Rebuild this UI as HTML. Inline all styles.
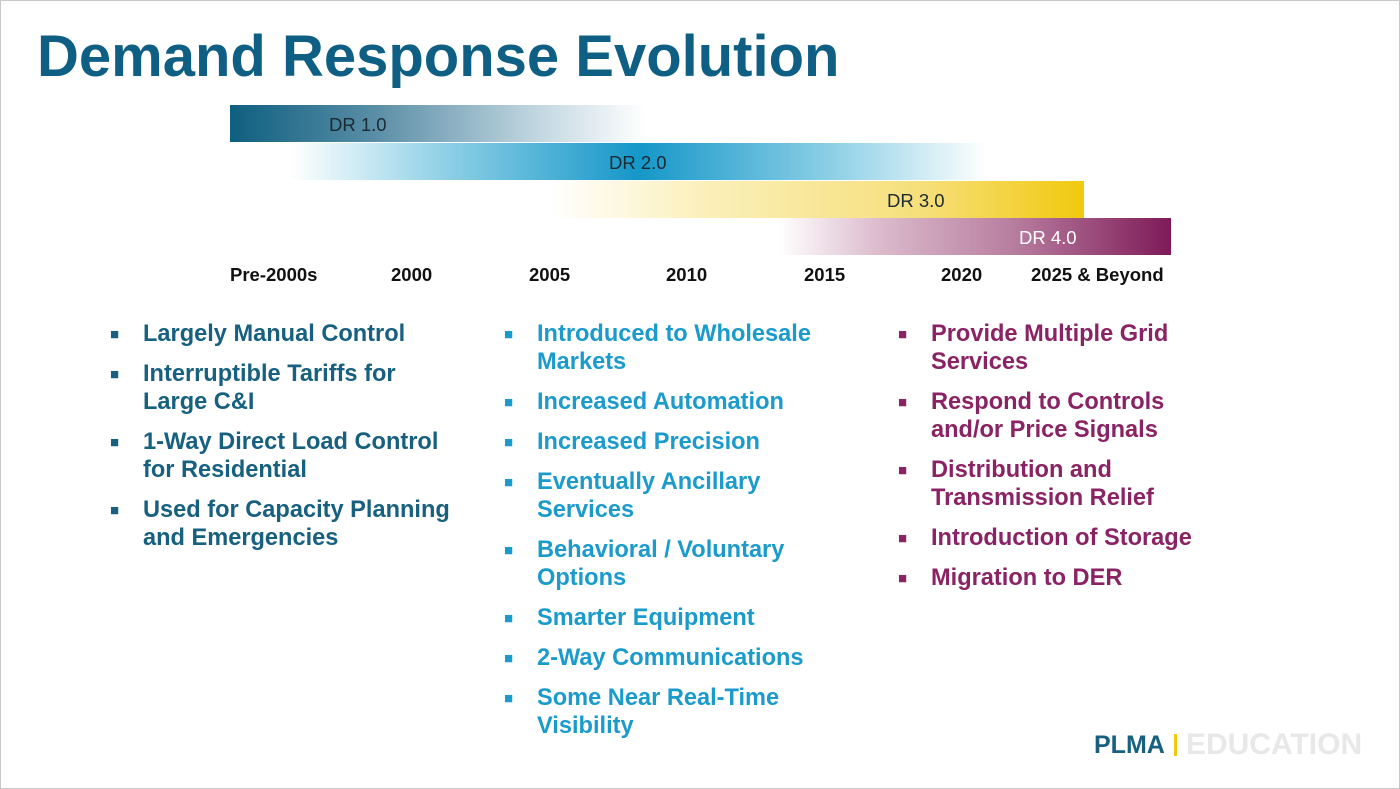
<!DOCTYPE html>
<html><head><meta charset="utf-8"><style>
body{margin:0;width:1400px;height:789px;background:#fff;font-family:"Liberation Sans",Arial,sans-serif;overflow:hidden}
#slide{position:absolute;left:0;top:0;width:1398px;height:787px;border:1px solid #c8c8c8}
h1{position:absolute;left:36px;top:22px;margin:0;font-size:58px;font-weight:bold;color:#0f5f84}
.bar{position:absolute;height:37px}
.bl{position:absolute;font-size:18.5px;color:#1b2a33}
.yr{position:absolute;top:263px;font-size:18.5px;font-weight:bold;color:#111}
.it{position:absolute;font-size:23.6px;font-weight:bold;line-height:28px}
.it .sq{position:absolute;left:-33px;top:1px;font-size:15px}
.c1{color:#17607f}.c2{color:#1b9bcc}.c3{color:#8a2363}
</style></head><body>
<div id="slide">
<h1>Demand Response Evolution</h1>

<div class="bar" style="left:229px;top:104px;width:415px;background:linear-gradient(90deg,#0e5f80 0%,#5a8ea6 35%,#c4d8e1 75%,#fff 100%)"></div>
<div class="bl" style="left:328px;top:113px">DR 1.0</div>
<div class="bar" style="left:290px;top:142px;width:696px;background:linear-gradient(90deg,#fff 0%,#8fd0e6 22%,#1597c8 50%,#8fd0e6 78%,#fff 100%)"></div>
<div class="bl" style="left:608px;top:151px">DR 2.0</div>
<div class="bar" style="left:548px;top:180px;width:535px;background:linear-gradient(90deg,#fff 0%,#fbefb8 30%,#f6df7a 70%,#f1c90e 100%)"></div>
<div class="bl" style="left:886px;top:189px">DR 3.0</div>
<div class="bar" style="left:778px;top:217px;width:392px;background:linear-gradient(90deg,#fff 0%,#dcbccd 25%,#b77d9f 60%,#7e1a58 100%)"></div>
<div class="bl" style="left:1018px;top:226px;color:#fff">DR 4.0</div>

<div class="yr" style="left:229px">Pre-2000s</div>
<div class="yr" style="left:390px">2000</div>
<div class="yr" style="left:528px">2005</div>
<div class="yr" style="left:665px">2010</div>
<div class="yr" style="left:803px">2015</div>
<div class="yr" style="left:940px">2020</div>
<div class="yr" style="left:1030px">2025 &amp; Beyond</div>

<div class="it c1" style="left:142px;top:319px"><span class="sq">■</span>Largely Manual Control</div>
<div class="it c1" style="left:142px;top:359px"><span class="sq">■</span>Interruptible Tariffs for<br>Large C&amp;I</div>
<div class="it c1" style="left:142px;top:427px"><span class="sq">■</span>1-Way Direct Load Control<br>for Residential</div>
<div class="it c1" style="left:142px;top:495px"><span class="sq">■</span>Used for Capacity Planning<br>and Emergencies</div>

<div class="it c2" style="left:536px;top:319px"><span class="sq">■</span>Introduced to Wholesale<br>Markets</div>
<div class="it c2" style="left:536px;top:387px"><span class="sq">■</span>Increased Automation</div>
<div class="it c2" style="left:536px;top:427px"><span class="sq">■</span>Increased Precision</div>
<div class="it c2" style="left:536px;top:467px"><span class="sq">■</span>Eventually Ancillary<br>Services</div>
<div class="it c2" style="left:536px;top:535px"><span class="sq">■</span>Behavioral / Voluntary<br>Options</div>
<div class="it c2" style="left:536px;top:603px"><span class="sq">■</span>Smarter Equipment</div>
<div class="it c2" style="left:536px;top:643px"><span class="sq">■</span>2-Way Communications</div>
<div class="it c2" style="left:536px;top:683px"><span class="sq">■</span>Some Near Real-Time<br>Visibility</div>

<div class="it c3" style="left:930px;top:319px"><span class="sq">■</span>Provide Multiple Grid<br>Services</div>
<div class="it c3" style="left:930px;top:387px"><span class="sq">■</span>Respond to Controls<br>and/or Price Signals</div>
<div class="it c3" style="left:930px;top:455px"><span class="sq">■</span>Distribution and<br>Transmission Relief</div>
<div class="it c3" style="left:930px;top:523px"><span class="sq">■</span>Introduction of Storage</div>
<div class="it c3" style="left:930px;top:563px"><span class="sq">■</span>Migration to DER</div>

<div style="position:absolute;left:1093px;top:730px;font-size:25px;font-weight:bold;color:#17607f;letter-spacing:0px">PLMA</div>
<div style="position:absolute;left:1173px;top:733px;width:3px;height:22px;background:#f1c90e"></div>
<div style="position:absolute;left:1185px;top:727px;font-size:30px;font-weight:bold;color:#e8e8e8">EDUCATION</div>
</div>
</body></html>
